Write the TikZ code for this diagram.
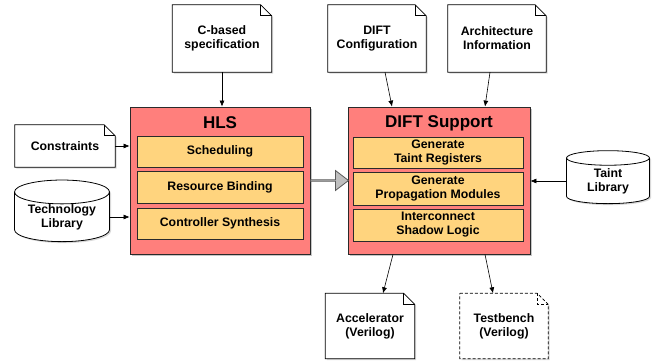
\documentclass[tikz,border=0pt]{standalone}
\usepackage{fontspec}
\setmainfont{Liberation Sans}
\definecolor{hlsred}{HTML}{FF7F7C}
\definecolor{stepyel}{HTML}{FFD47E}
\definecolor{edge}{HTML}{2A2A2A}
\usetikzlibrary{arrows.meta,positioning,shapes.geometric,shapes.arrows,shadows,calc}
\newcommand{\labfont}{\bfseries\fontsize{12.3}{14}\selectfont}
\tikzset{
  stage/.style={draw=edge,thick,fill=hlsred,inner sep=0pt,
                drop shadow={shadow xshift=2pt,shadow yshift=-2pt,opacity=.45}},
  sub/.style={draw=edge,thick,fill=stepyel,align=center,inner sep=0pt,
              minimum width=166pt,font=\labfont,
              drop shadow={shadow xshift=1pt,shadow yshift=-1pt,opacity=.35}},
  ttl/.style={font=\bfseries\fontsize{17}{19}\selectfont},
  page/.style={align=center,inner sep=0pt,font=\labfont},
  pagebox/.style={draw=black,fill=white,thick,
                  drop shadow={shadow xshift=1.5pt,shadow yshift=-1.5pt,opacity=.3}},
  store/.style={cylinder,shape border rotate=90,shape aspect=.35,draw=black,thick,
                fill=white,align=center,inner sep=0pt,font=\labfont,
                drop shadow={shadow xshift=1.5pt,shadow yshift=-1.5pt,opacity=.3}},
  arr/.style={-{Latex[length=6pt,width=5pt]},semithick,black},
  fat/.style={single arrow,draw=gray!70!black,fill=gray!50,thick,
              minimum width=20pt,minimum height=38pt,single arrow head extend=5pt,
              single arrow tip angle=75,inner sep=0pt}
}
% page outline with a folded top right corner
\newcommand{\dogear}[2][]{%
  \path[pagebox,#1] (#2.north west) -- ([xshift=-11pt]#2.north east)
    -- ([yshift=-11pt]#2.north east) -- (#2.south east) -- (#2.south west) -- cycle;
  \draw[thick,#1] ([xshift=-11pt]#2.north east) -- ([xshift=-11pt,yshift=-11pt]#2.north east)
    -- ([yshift=-11pt]#2.north east);
}
\begin{document}
\begin{tikzpicture}[x=1pt,y=-1pt]
  \useasboundingbox (0,0) rectangle (656,364);

  % the two tool stages
  \node[stage,minimum width=180pt,minimum height=147pt] (hls) at (220,180.5) {};
  \node[ttl] (hlst) at (220,123) {HLS};
  \node[sub,minimum height=31pt] (sched) at (220,151.5) {Scheduling};
  \node[sub,minimum height=32pt] (bind) at (220,187) {Resource Binding};
  \node[sub,minimum height=31pt] (ctrl) at (220,223.5) {Controller Synthesis};

  \node[stage,minimum width=182pt,minimum height=147pt] (dift) at (439,180.5) {};
  \node[ttl] (diftt) at (439,123) {DIFT Support};
  \node[sub,minimum width=170pt,minimum height=31pt] (treg) at (438,152.5) {Generate\\Taint Registers};
  \node[sub,minimum width=170pt,minimum height=33pt] (prop) at (438,188.5) {Generate\\Propagation Modules};
  \node[sub,minimum width=170pt,minimum height=32pt] (shad) at (438,225) {Interconnect\\Shadow Logic};

  \node[fat] (flow) at ($(hls.east)!.5!(dift.west)$) {};

  % inputs and outputs
  \node[page,minimum width=99pt,minimum height=67pt] (spec) at (222,38.5) {C-based\\specification};
  \dogear{spec}
  \node[page] at (spec) {C-based\\specification};
  \node[page,minimum width=98pt,minimum height=67pt] (cfg) at (377,38.5) {DIFT\\Configuration};
  \dogear{cfg}
  \node[page] at (cfg) {DIFT\\Configuration};
  \node[page,minimum width=98pt,minimum height=67pt] (arch) at (497,38.5) {Architecture\\Information};
  \dogear{arch}
  \node[page] at (arch) {Architecture\\Information};
  \node[page,minimum width=100pt,minimum height=42pt] (cons) at (65,146) {Constraints};
  \dogear{cons}
  \node[page] at (cons) {Constraints};
  \node[page,minimum width=89pt,minimum height=65pt] (acc) at (370,326) {Accelerator\\(Verilog)};
  \dogear{acc}
  \node[page] at (acc) {Accelerator\\(Verilog)};
  \node[page,minimum width=88pt,minimum height=65pt] (tb) at (504,326) {Testbench\\(Verilog)};
  \dogear[densely dashed]{tb}
  \node[page] at (tb) {Testbench\\(Verilog)};

  \node[store,minimum width=95pt,minimum height=55pt] (tech) at (62,217) {Technology\\Library};
  \node[store,minimum width=83pt,minimum height=53pt] (taint) at (608,181) {Taint\\Library};

  \draw[arr] (spec.south) -- (spec.south |- hls.north);
  \draw[arr] ([xshift=8pt]cfg.south) -- ([xshift=-47pt]dift.north);
  \draw[arr] ([xshift=-7pt]arch.south) -- ([xshift=46pt]dift.north);
  \draw[arr] (cons.east) -- (cons.east -| hls.west);
  \draw[arr] (tech.east) -- (tech.east -| hls.west);
  \draw[arr] (taint.west) -- (taint.west -| dift.east);
  \draw[arr] ([xshift=-46pt]dift.south) -- ([xshift=13pt]acc.north);
  \draw[arr] ([xshift=46pt]dift.south) -- ([xshift=-11pt]tb.north);
\end{tikzpicture}
\end{document}
